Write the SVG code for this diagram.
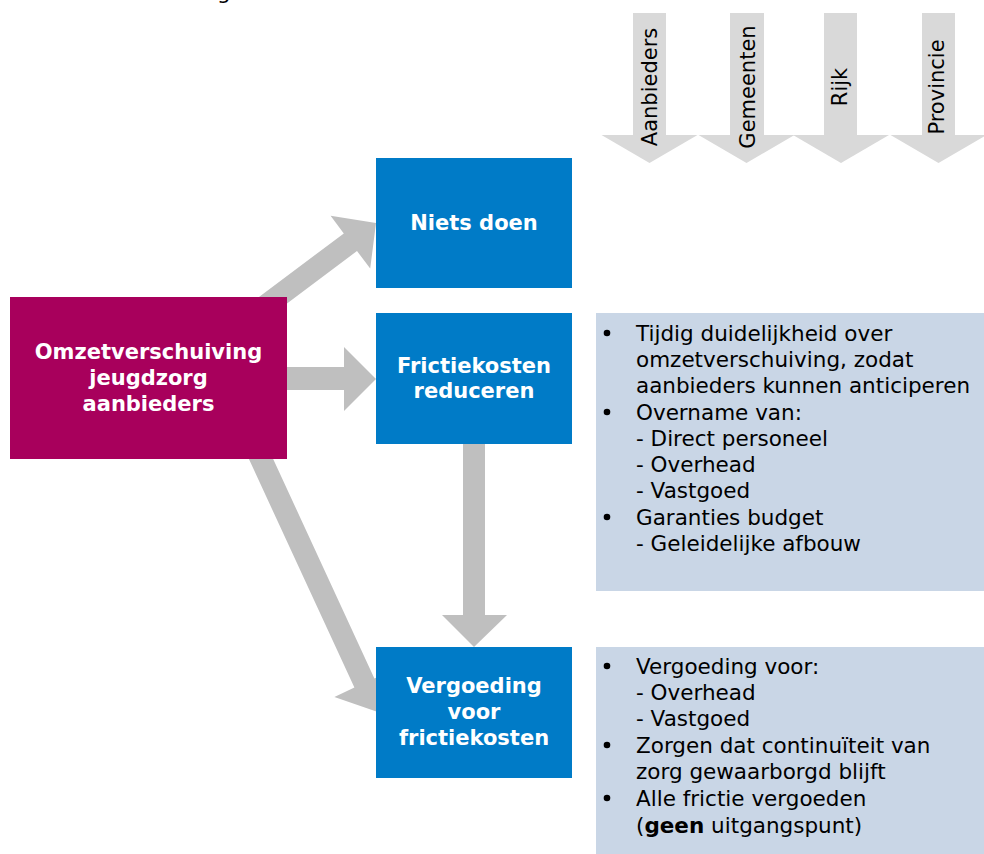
<svg xmlns="http://www.w3.org/2000/svg" width="984" height="854" viewBox="0 0 984 854">
<style>
.conn{fill:#bfbfbf}
.band{fill:#d9d9d9}
.hd{font-family:"DejaVu Sans",Verdana,sans-serif;font-weight:bold;font-size:21px;fill:#ffffff;text-anchor:middle}
.tx{font-family:"DejaVu Sans",Verdana,sans-serif;font-size:21.5px;fill:#000000}
.lbl{font-family:"DejaVu Sans",Verdana,sans-serif;font-size:21px;fill:#000000;text-anchor:middle}
.panel{fill:#c9d6e6}
</style>
<rect width="984" height="854" fill="#ffffff"/>
<text class="tx" x="217" y="-1">g</text>

<g id="stakeholders">
  <g id="arrow-aanbieders">
    <polygon class="band" points="633,13 666,13 666,135 697.5,135 649.5,163 601.5,135 633,135"/>
    <text class="lbl" transform="translate(657,87) rotate(-90)">Aanbieders</text>
  </g>
  <g id="arrow-gemeenten">
    <polygon class="band" points="730,13 764,13 764,135 794.5,135 746.5,163 698.5,135 730,135"/>
    <text class="lbl" transform="translate(755,87) rotate(-90)">Gemeenten</text>
  </g>
  <g id="arrow-rijk">
    <polygon class="band" points="824,13 857,13 857,135 889,135 841,163 793,135 824,135"/>
    <text class="lbl" transform="translate(847,87) rotate(-90)">Rijk</text>
  </g>
  <g id="arrow-provincie">
    <polygon class="band" points="922,13 955,13 955,135 986.5,135 938.5,163 890.5,135 922,135"/>
    <text class="lbl" transform="translate(944,87) rotate(-90)">Provincie</text>
  </g>
</g>

<g id="connectors">
  <polygon class="conn" points="239.8,311.4 343.8,233.4 330.6,215.8 376,223 370.2,268.6 357,251 253,329"/>
  <polygon class="conn" points="270,367 344,367 344,347 376,379 344,411 344,390 270,390"/>
  <polygon class="conn" points="243.1,446.4 354.4,687.6 334.4,696.9 377.8,712.1 394.4,669.1 374.4,678.4 263.1,437.2"/>
  <polygon class="conn" points="463,430 485,430 485,615 507,615 474,647 442,615 463,615"/>
</g>

<g id="node-omzet">
  <rect x="10" y="297" width="277" height="162" fill="#a8005c"/>
  <text class="hd" x="148.5" y="359">Omzetverschuiving</text>
  <text class="hd" x="148.5" y="385">jeugdzorg</text>
  <text class="hd" x="148.5" y="411">aanbieders</text>
</g>

<g id="node-niets">
  <rect x="376" y="158" width="196" height="130" fill="#007bc7"/>
  <text class="hd" x="474" y="230">Niets doen</text>
</g>

<g id="node-reduceren">
  <rect x="376" y="313" width="196" height="131" fill="#007bc7"/>
  <text class="hd" x="474" y="373">Frictiekosten</text>
  <text class="hd" x="474" y="398">reduceren</text>
</g>

<g id="node-vergoeding">
  <rect x="376" y="647" width="196" height="131" fill="#007bc7"/>
  <text class="hd" x="474" y="693">Vergoeding</text>
  <text class="hd" x="474" y="719">voor</text>
  <text class="hd" x="474" y="745">frictiekosten</text>
</g>

<g id="panel-reduceren">
  <rect class="panel" x="596" y="313" width="388" height="278"/>
  <circle cx="607" cy="333" r="3.3" fill="#000"/>
  <circle cx="607" cy="412" r="3.3" fill="#000"/>
  <circle cx="607" cy="517" r="3.3" fill="#000"/>
  <text class="tx" x="636" y="341">Tijdig duidelijkheid over</text>
  <text class="tx" x="636" y="367">omzetverschuiving, zodat</text>
  <text class="tx" x="636" y="393">aanbieders kunnen anticiperen</text>
  <text class="tx" x="636" y="420">Overname van:</text>
  <text class="tx" x="636" y="446">- Direct personeel</text>
  <text class="tx" x="636" y="472">- Overhead</text>
  <text class="tx" x="636" y="498">- Vastgoed</text>
  <text class="tx" x="636" y="525">Garanties budget</text>
  <text class="tx" x="636" y="551">- Geleidelijke afbouw</text>
</g>

<g id="panel-vergoeding">
  <rect class="panel" x="596" y="647" width="388" height="207"/>
  <circle cx="607" cy="666" r="3.3" fill="#000"/>
  <circle cx="607" cy="745" r="3.3" fill="#000"/>
  <circle cx="607" cy="798" r="3.3" fill="#000"/>
  <text class="tx" x="636" y="674">Vergoeding voor:</text>
  <text class="tx" x="636" y="700">- Overhead</text>
  <text class="tx" x="636" y="726">- Vastgoed</text>
  <text class="tx" x="636" y="753">Zorgen dat continuïteit van</text>
  <text class="tx" x="636" y="779">zorg gewaarborgd blijft</text>
  <text class="tx" x="636" y="806">Alle frictie vergoeden</text>
  <text class="tx" x="636" y="833">(<tspan font-weight="bold">geen</tspan> uitgangspunt)</text>
</g>
</svg>
